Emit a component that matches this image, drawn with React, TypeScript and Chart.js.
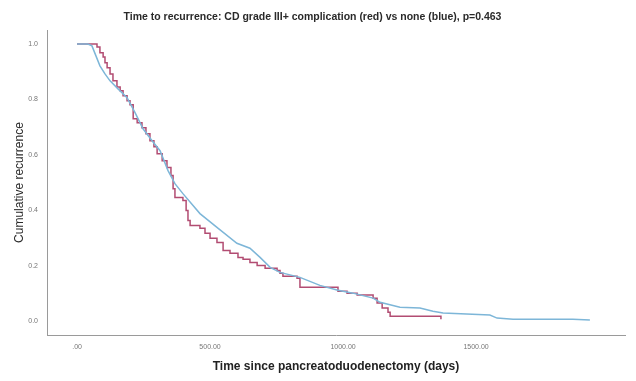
import React, { useEffect, useRef } from "react";
import { Chart, registerables } from "chart.js";

Chart.register(...registerables);

const TITLE = "Time to recurrence: CD grade III+ complication (red) vs none (blue), p=0.463";
const X_TITLE = "Time since pancreatoduodenectomy (days)";
const Y_TITLE = "Cumulative recurrence";

const X_TICKS = [0, 500, 1000, 1500];
const X_TICK_LABELS = [".00", "500.00", "1000.00", "1500.00"];
const Y_TICKS = [0, 0.2, 0.4, 0.6, 0.8, 1.0];

// Red: CD grade III+ complication (step curve)
const redTimes = [0, 75, 86, 98, 105, 113, 124, 135, 150, 162, 173, 188, 199, 211, 226, 244, 259, 274, 289, 301, 320, 338, 353, 361, 368, 398, 410, 417, 425, 462, 481, 500, 526, 549, 575, 605, 624, 650, 677, 707, 752, 763, 774, 827, 838, 981, 1015, 1053, 1113, 1128, 1147, 1169, 1177, 1365, 1368];
const redValues = [1.0, 0.989, 0.968, 0.953, 0.932, 0.914, 0.892, 0.867, 0.845, 0.831, 0.813, 0.795, 0.781, 0.73, 0.716, 0.698, 0.676, 0.651, 0.629, 0.604, 0.579, 0.554, 0.525, 0.478, 0.446, 0.435, 0.399, 0.363, 0.345, 0.335, 0.317, 0.299, 0.284, 0.255, 0.245, 0.23, 0.223, 0.212, 0.201, 0.191, 0.183, 0.173, 0.162, 0.155, 0.122, 0.108, 0.101, 0.094, 0.083, 0.065, 0.047, 0.032, 0.018, 0.018, 0.007];

// Blue: no complication (dense curve)
const blueTimes = [0, 41, 56, 71, 86, 105, 124, 154, 188, 218, 248, 282, 312, 342, 368, 398, 462, 526, 601, 650, 688, 726, 763, 838, 913, 977, 1037, 1113, 1139, 1214, 1289, 1338, 1376, 1552, 1579, 1639, 1864, 1928];
const blueValues = [1.0, 1.0, 0.993, 0.957, 0.921, 0.892, 0.867, 0.838, 0.806, 0.752, 0.694, 0.651, 0.615, 0.543, 0.496, 0.46, 0.388, 0.338, 0.281, 0.263, 0.23, 0.194, 0.176, 0.158, 0.129, 0.112, 0.101, 0.083, 0.068, 0.05, 0.047, 0.036, 0.029, 0.022, 0.011, 0.007, 0.007, 0.004];

const FONT = "'Liberation Sans', Arial, sans-serif";

export default function App() {
  const ref = useRef<HTMLCanvasElement | null>(null);

  useEffect(() => {
    if (!ref.current) return;
    const chart = new Chart(ref.current, {
      type: "line",
      data: {
        datasets: [
          {
            label: "none",
            data: blueTimes.map((t, i) => ({ x: t, y: blueValues[i] })),
            borderColor: "#7db6d8",
            borderWidth: 1.5,
            pointRadius: 0,
            tension: 0,
            fill: false,
          },
          {
            label: "CD grade III+",
            data: redTimes.map((t, i) => ({ x: t, y: redValues[i] })),
            borderColor: "#b24c72",
            borderWidth: 1.5,
            pointRadius: 0,
            stepped: "before",
            fill: false,
          },
        ],
      },
      options: {
        animation: false,
        responsive: false,
        maintainAspectRatio: false,
        layout: { padding: { left: 0, right: 11, top: 0, bottom: 0 } },
        plugins: {
          legend: { display: false },
          tooltip: { enabled: false },
          title: {
            display: true,
            text: TITLE,
            color: "#2a2a2a",
            font: { family: FONT, size: 10.5, weight: "bold" },
            padding: { top: 11, bottom: 6.5 },
          },
        },
        scales: {
          x: {
            type: "linear",
            min: -113,
            max: 2060,
            grid: { display: false },
            border: { display: true, color: "#9a9a9a", width: 1 },
            afterBuildTicks: (scale: any) => {
              scale.ticks = X_TICKS.map((v) => ({ value: v }));
            },
            afterFit: (scale: any) => {
              scale.height = 46;
            },
            ticks: {
              autoSkip: false,
              maxRotation: 0,
              padding: 0,
              color: "#777",
              font: { family: FONT, size: 7 },
              callback: (v: any) => {
                const i = X_TICKS.indexOf(Number(v));
                return i >= 0 ? X_TICK_LABELS[i] : "";
              },
            },
            title: {
              display: true,
              text: X_TITLE,
              color: "#222",
              font: { family: FONT, size: 12, weight: "bold" },
              padding: { top: 0, bottom: 7 },
            },
          },
          y: {
            type: "linear",
            min: -0.05,
            max: 1.05,
            grid: { display: false },
            border: { display: true, color: "#9a9a9a", width: 1 },
            afterBuildTicks: (scale: any) => {
              scale.ticks = Y_TICKS.map((v) => ({ value: v }));
            },
            afterFit: (scale: any) => {
              scale.width = 47;
            },
            ticks: {
              autoSkip: false,
              padding: 1,
              color: "#777",
              font: { family: FONT, size: 7 },
              callback: (v: any) => Number(v).toFixed(1),
            },
            title: {
              display: true,
              text: Y_TITLE,
              color: "#2a2a2a",
              font: { family: FONT, size: 12 },
              padding: { top: 12, bottom: 0 },
            },
          },
        },
      },
    });
    return () => chart.destroy();
  }, []);

  return (
    <div style={{ position: "fixed", left: 0, top: 0, width: 636, height: 381, background: "#fff" }}>
      <canvas ref={ref} width={636} height={381} style={{ width: 636, height: 381, display: "block" }} />
    </div>
  );
}
